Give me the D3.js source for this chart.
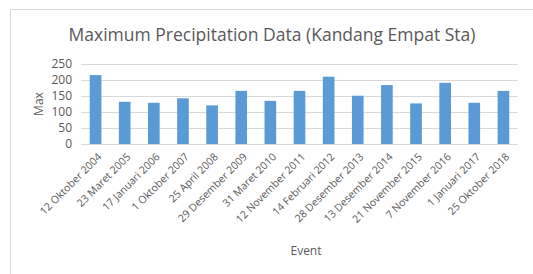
<!DOCTYPE html>
<html>
<head>
<meta charset="utf-8">
<script src="https://cdn.jsdelivr.net/npm/d3@7"></script>
<style>
	body { margin: 0; background: #fff; }
	svg { display: block; font-family: "Open Sans", "Liberation Sans", sans-serif; }
</style>
</head>
<body>
<svg id="chart" width="533" height="274"></svg>
<script>
// data
var events = ["12 Oktober 2004", "23 Maret 2005", "17 Januari 2006", "1 Oktober 2007",
	"25 April 2008", "29 Desember 2009", "31 Maret 2010", "12 November 2011",
	"14 Februari 2012", "28 Desember 2013", "13 Desember 2014", "21 November 2015",
	"7 November 2016", "1 Januari 2017", "25 Oktober 2018"];
var maxValues = [214, 131, 128, 142, 120, 165, 134, 165, 209, 150, 183, 126, 190, 128, 165];
var yTicks = [0, 50, 100, 150, 200, 250];

var svg = d3.select("#chart");
var textColor = "#595959";

// chart frame
svg.append("rect")
	.attr("x", 10.5).attr("y", 9.5)
	.attr("width", 540).attr("height", 280)
	.attr("fill", "#fff")
	.attr("stroke", "#d9d9d9");

var plot = { left: 81, right: 518, top: 63.5, bottom: 144 };

var x = d3.scaleBand()
	.domain(events)
	.range([plot.left, plot.right])
	.paddingInner(0.6)
	.paddingOuter(0.3);

var y = d3.scaleLinear()
	.domain([0, 250])
	.range([plot.bottom, plot.top]);

// gridlines
svg.append("g")
	.selectAll("line")
	.data(yTicks)
	.enter().append("line")
	.attr("x1", plot.left).attr("x2", plot.right)
	.attr("y1", function(d) { return Math.round(y(d)) + 0.5; })
	.attr("y2", function(d) { return Math.round(y(d)) + 0.5; })
	.attr("stroke", "#d9d9d9");

// y tick labels
svg.append("g")
	.selectAll("text")
	.data(yTicks)
	.enter().append("text")
	.attr("x", 72)
	.attr("y", function(d) { return y(d); })
	.attr("dy", "0.35em")
	.attr("text-anchor", "end")
	.attr("font-size", 12)
	.attr("fill", textColor)
	.text(function(d) { return d; });

// bars
svg.append("g")
	.selectAll("rect")
	.data(maxValues)
	.enter().append("rect")
	.attr("x", function(d, i) { return x(events[i]); })
	.attr("width", x.bandwidth())
	.attr("y", function(d) { return y(d); })
	.attr("height", function(d) { return y(0) - y(d); })
	.attr("fill", "#5b9bd5");

// x tick labels, rotated
svg.append("g")
	.selectAll("text")
	.data(events)
	.enter().append("text")
	.attr("transform", function(d) {
		var cx = x(d) + x.bandwidth() / 2 + 4;
		return "translate(" + cx + "," + (plot.bottom + 11) + ") rotate(-45)";
	})
	.attr("text-anchor", "end")
	.attr("dy", "0.35em")
	.attr("font-size", 10.5)
	.attr("fill", textColor)
	.text(function(d) { return d; });

// title
svg.append("text")
	.attr("x", 272).attr("y", 41)
	.attr("text-anchor", "middle")
	.attr("font-size", 17.5)
	.attr("fill", textColor)
	.text("Maximum Precipitation Data (Kandang Empat Sta)");

// axis titles
svg.append("text")
	.attr("transform", "translate(43,104) rotate(-90)")
	.attr("text-anchor", "middle")
	.attr("font-size", 12)
	.attr("fill", textColor)
	.text("Max");

svg.append("text")
	.attr("x", 306).attr("y", 255)
	.attr("text-anchor", "middle")
	.attr("font-size", 12)
	.attr("fill", textColor)
	.text("Event");
</script>
</body>
</html>
